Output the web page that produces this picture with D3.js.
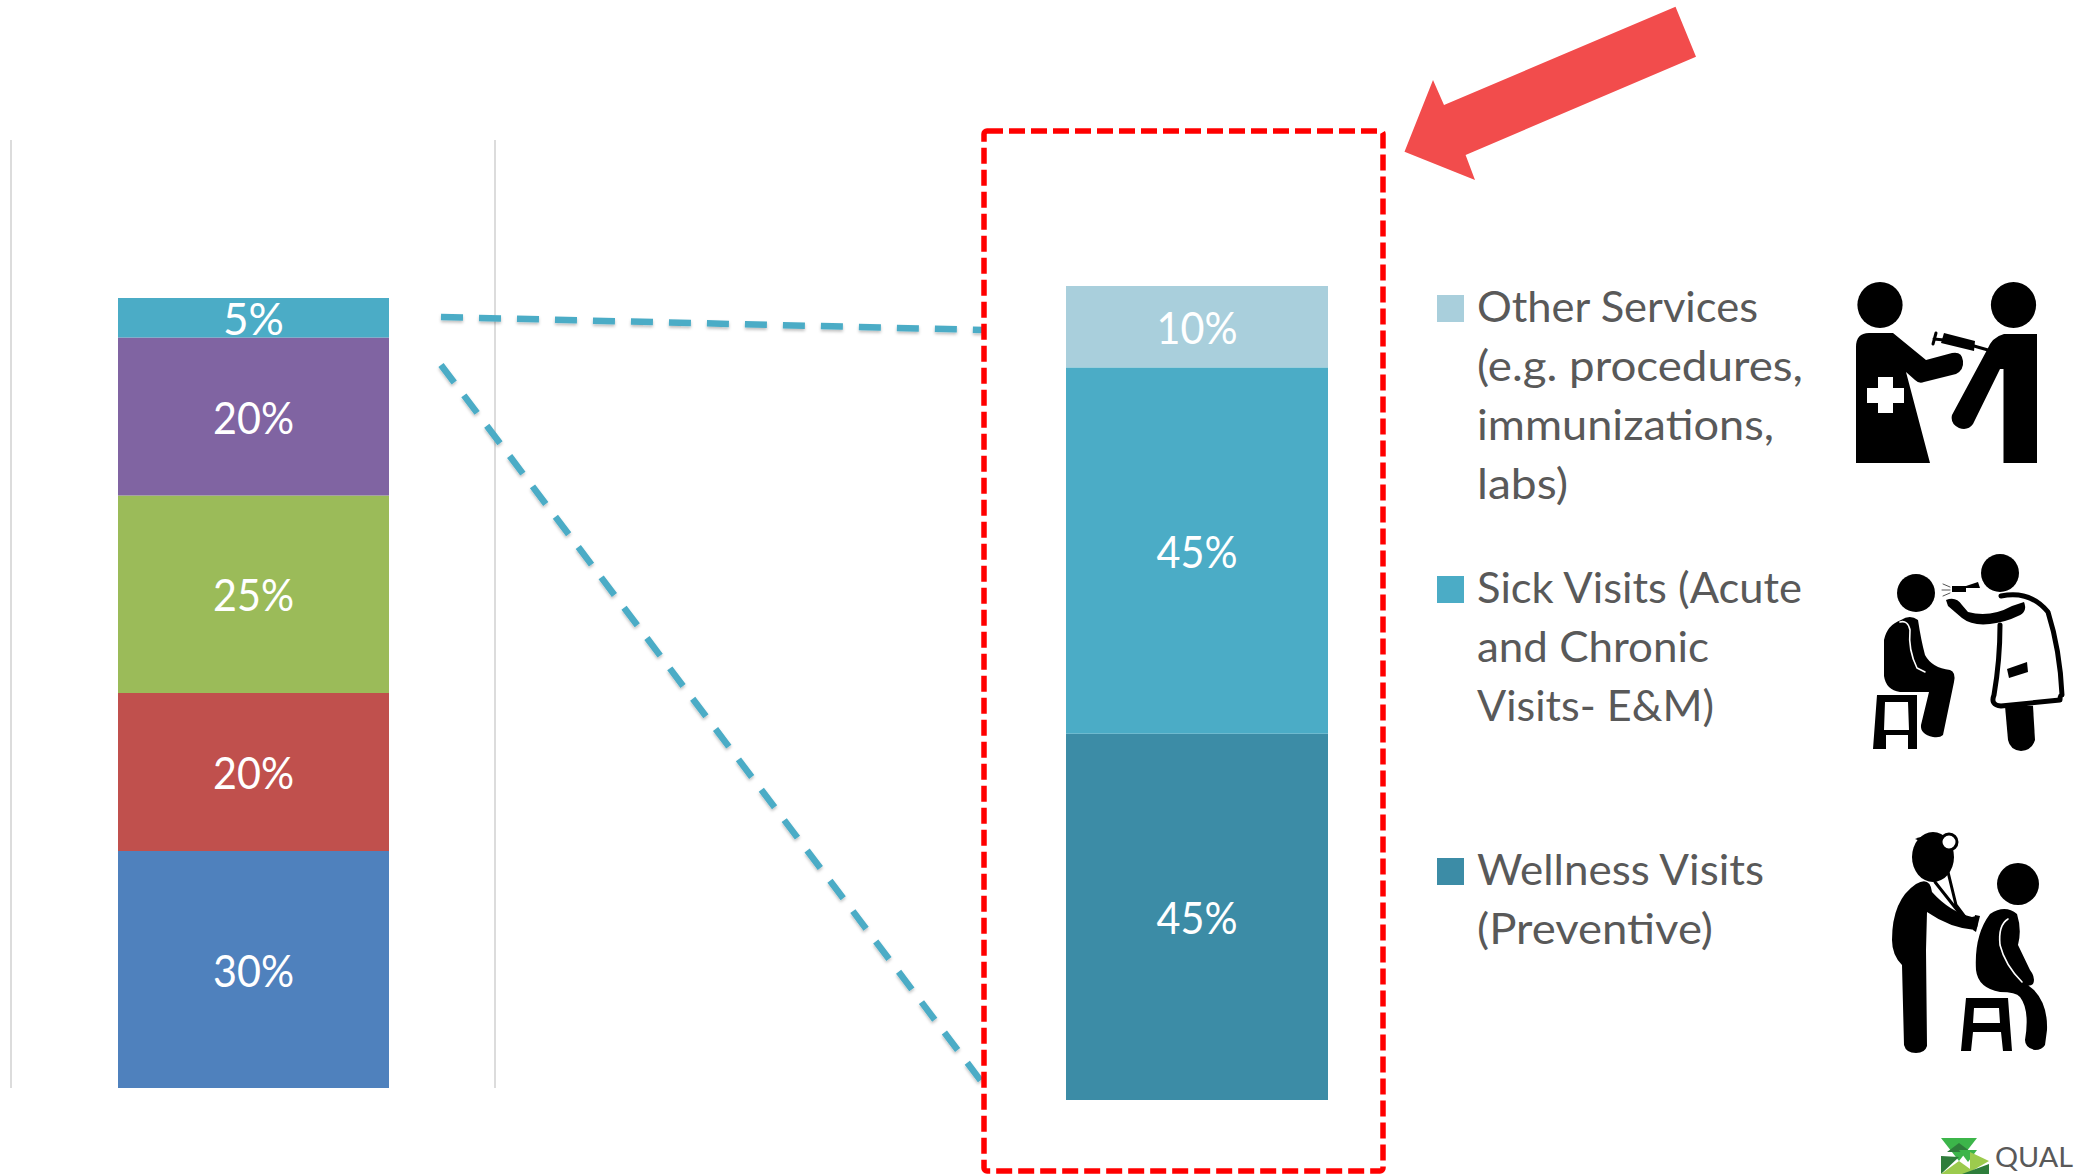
<!DOCTYPE html>
<html><head><meta charset="utf-8">
<script src="https://cdn.jsdelivr.net/npm/d3@7"></script>
<style>html,body{margin:0;padding:0;background:#fff}svg{display:block}text{font-family:Lato,Carlito,sans-serif}</style>
</head><body><svg id="c" width="2080" height="1174"></svg>
<script>
const leftKeys = ["a","b","c","d","e"];
const leftValues = [30,20,25,20,5];
const leftColors = ["#4f81bd","#c0504d","#9bbb59","#8064a2","#4bacc6"];
const rightKeys = ["Wellness","Sick","Other"];
const rightValues = [45,45,10];
const rightColors = ["#3c8ca6","#4bacc6","#a9cfdc"];
const legendLines = [
  ["Other Services","(e.g. procedures,","immunizations,","labs)"],
  ["Sick Visits (Acute","and Chronic","Visits- E&M)"],
  ["Wellness Visits","(Preventive)"]
];
const legendSwatches = ["#a9cfdc","#4bacc6","#3c8ca6"];
const legendWidths = [[281,326,297,91],[325,232,237],[287,236]];

const svg = d3.select("#c");
const defs = svg.append("defs");
const f = defs.append("filter").attr("id","sh").attr("x","-10%").attr("y","-10%").attr("width","120%").attr("height","120%");
f.append("feDropShadow").attr("dx",0).attr("dy",2).attr("stdDeviation",1.5).attr("flood-color","#000").attr("flood-opacity",.25);

function stackBar(keys, values, colors, x0, x1, yTop, yBottom){
  const row = Object.fromEntries(keys.map((k,i)=>[k,values[i]]));
  const layers = d3.stack().keys(keys)([row]);
  const y = d3.scaleLinear().domain([0,d3.sum(values)]).range([yBottom,yTop]);
  const x = d3.scaleBand().domain(["bar"]).range([x0,x1]);
  const g = svg.append("g");
  g.selectAll("rect").data(layers).join("rect")
    .attr("x",x("bar")).attr("width",x.bandwidth())
    .attr("y",d=>y(d[0][1])).attr("height",d=>y(d[0][0])-y(d[0][1]))
    .attr("fill",(d,i)=>colors[i]);
  g.selectAll("text").data(layers).join("text")
    .attr("x",x("bar")+x.bandwidth()/2)
    .attr("y",d=>(y(d[0][0])+y(d[0][1]))/2+17)
    .attr("text-anchor","middle").attr("fill","#fff").attr("font-size",44)
    .attr("textLength",d=>(d[0][1]-d[0][0])<10?61:81).attr("lengthAdjust","spacingAndGlyphs")
    .text(d=>(d[0][1]-d[0][0])+"%");
}

// category separators of the left chart
const gridX = d3.scaleLinear().domain([0,1]).range([11,495]);
svg.append("g").selectAll("line").data([0,1]).join("line")
  .attr("x1",d=>gridX(d)).attr("x2",d=>gridX(d)).attr("y1",140).attr("y2",1088)
  .attr("stroke","#d9d9d9").attr("stroke-width",1.8);

stackBar(leftKeys,leftValues,leftColors,118,389,298,1088);
stackBar(rightKeys,rightValues,rightColors,1066,1328,286,1100);

// connector lines
svg.append("g").attr("filter","url(#sh)").selectAll("line")
  .data([[441,317,984,330],[441,365,984,1085]]).join("line")
  .attr("x1",d=>d[0]).attr("y1",d=>d[1]).attr("x2",d=>d[2]).attr("y2",d=>d[3])
  .attr("stroke","#4bacc6").attr("stroke-width",6.5).attr("stroke-dasharray","22 16");

// highlight box
svg.append("rect").attr("x",984).attr("y",131).attr("width",399).attr("height",1040).attr("rx",3)
  .attr("fill","none").attr("stroke","#ff0000").attr("stroke-width",5.5).attr("stroke-dasharray","16 6");

// arrow
svg.append("path").attr("d","M1404.5 151.7L1433 80L1444 105L1675.5 6.7L1696 56.7L1465.6 155L1475 180Z").attr("fill","#f24c4c");

// legend
const legendY = [322,603,885];
const lg = svg.append("g");
legendLines.forEach((lines,i)=>{
  lg.append("rect").attr("x",1437).attr("y",legendY[i]-27).attr("width",27).attr("height",27).attr("fill",legendSwatches[i]);
  lg.selectAll(null).data(lines).join("text")
    .attr("x",1477).attr("y",(d,j)=>legendY[i]+j*59)
    .attr("font-size",43).attr("fill","#595959")
    .attr("textLength",(d,j)=>legendWidths[i][j]).attr("lengthAdjust","spacingAndGlyphs")
    .text(d=>d);
});

// pictograms
const ic = svg.append("g").attr("fill","#000");
const E=(cx,cy,rx,ry,fill)=>ic.append("ellipse").attr("cx",cx).attr("cy",cy).attr("rx",rx).attr("ry",ry).attr("fill",fill||"#000");
const P=(d,fill,st,sw)=>ic.append("path").attr("d",d).attr("fill",fill||"#000").attr("stroke",st||"none").attr("stroke-width",sw||0).attr("stroke-linecap","round").attr("stroke-linejoin","round");

// icon 1: injection
E(1880,305,22.6,23); E(2013.5,305,22.6,23);
P("M1856 463V347Q1856 333 1869 333H1893L1926 360L1952 353Q1962 351 1963 361Q1964 370 1956 374L1924 382Q1919 384 1915 380L1906 372L1930 463Z");
P("M1878 377H1893V388H1904V403H1893V413H1878V403H1867V388H1878Z","#fff");
P("M2037 334V463H2003.5V369H2000L1973 424Q1968 431 1959 428Q1950 424 1952 415L1987 350Q1992 337 2004 334Z");
P("M1944 333L1975 341L1974 351L1941 343Z");
P("M1974 346L1988 350","none","#000",3);
P("M1936 333L1933 344M1934 339L1944 340","none","#000",3);

// icon 2: ear exam
E(1916,593,19,19); E(2000,573,19,19);
P("M1901 620Q1910 614 1918 620Q1921 640 1925 655Q1932 668 1950 670Q1956 672 1954 682L1943 735Q1940 738 1933 737Q1920 734 1921 725L1929 692H1900Q1886 690 1884 676V640Q1887 625 1901 620Z");
P("M1900 622Q1908 620 1910 630Q1908 650 1917 668L1925 672","none","#fff",1.6);
P("M1877 695H1917V749H1908V735H1886V749H1873ZM1885 702L1884 730H1909L1908 702Z");
P("M2001 596Q2030 590 2048 612Q2060 650 2062 695Q2060 695 2060 700L2001 706Q1990 705 1994 695Q2000 660 2000 625","#fff","#000",5);
P("M1946 600Q1956 596 1962 605L1968 612Q1990 618 2012 606L2024 602Q2028 612 2018 616Q2006 622 1990 624Q1972 626 1962 618L1948 606Z");
P("M1952 586H1966L1978 582L1980 588H1966V592H1952Z");
P("M2007 669L2027 662L2028 672L2009 678Z");
P("M2005 706H2033L2035 740Q2032 750 2021 751Q2010 750 2008 740Z");
P("M1943 584L1950 587M1942 590H1950M1943 596L1950 593","none","#555",1);

// icon 3: stethoscope
E(1933,857,21,25); E(2018,884,21,21);
E(1949,842,8,8,"#fff").attr("stroke","#000").attr("stroke-width",3);
P("M1915 839Q1925 834 1944 836L1942 841H1920Z");
P("M1935 882L1965 920M1948 872L1956 905L1971 925","none","#000",3);
P("M1916 884Q1930 876 1932 892Q1950 912 1972 917L1976 916Q1980 926 1975 930Q1950 928 1927 912L1926 950L1927 1046Q1925 1053 1916 1053Q1906 1053 1904 1045L1902 965Q1892 955 1892 940Q1892 900 1916 884Z");
P("M1975 915L1980 916L1976 932L1973 930Z");
P("M1990 914Q2005 904 2017 914Q2022 930 2018 945L2030 970Q2036 978 2033 984Q2028 988 2024 982L2034 990Q2048 1005 2047 1030L2045 1045Q2042 1050 2035 1050Q2025 1048 2025 1040Q2030 1010 2020 997Q2016 992 2000 992Q1978 988 1976 970Q1974 935 1990 914Z");
P("M2008 919Q1998 925 2000 945Q2005 965 2022 982","none","#fff",1.6);
P("M1966 998H2008L2012 1051H2003L2001 1032H1973L1971 1051H1961ZM1974 1008L1973 1023H2000L1999 1008Z");

// logo
const logo = svg.append("g");
const tri = [
  ["M1941 1138H1977L1959 1161Z","#3cb54a"],
  ["M1959 1143L1947 1152H1971Z","#2e7d3b"],
  ["M1941 1156L1959 1157L1941 1174Z","#2e7d3b"],
  ["M1959 1150H1977L1968 1162Z","#3cb54a"],
  ["M1959 1161L1941 1174H1977Z","#9ccb4d"],
  ["M1970 1152L1989 1161L1970 1172Z","#9ccb4d"],
  ["M1989 1164L1962 1174H1989Z","#2e7d3b"]
];
logo.selectAll("path").data(tri).join("path").attr("d",d=>d[0]).attr("fill",d=>d[1]);
logo.append("text").attr("x",1995).attr("y",1167).attr("font-size",27).attr("fill","#595959")
  .attr("textLength",78).attr("lengthAdjust","spacingAndGlyphs").text("QUAL");
</script></body></html>
